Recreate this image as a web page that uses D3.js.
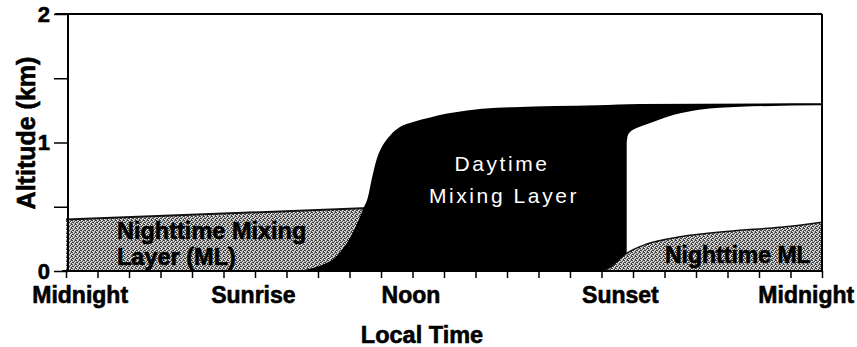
<!DOCTYPE html>
<html><head><meta charset="utf-8">
<script src="https://cdn.jsdelivr.net/npm/d3@7"></script>
<style>body{margin:0;background:#fff} svg{display:block}</style>
</head><body>
<svg id="chart" width="857" height="347"></svg>
<script>
// Boundary-layer depth over one day: hours after midnight → altitude (km)
const nightLeftHours = [0, 9.6];
const nightLeftKm    = [0.40, 0.49];

const dayHours = [7.2, 7.6, 8.16, 8.63, 9.17, 9.43, 9.59, 9.71, 9.87, 10.06, 10.29, 10.6, 11.02, 11.56, 12.1, 12.73, 13.68, 14.19, 16.86, 18.2, 24];
const dayKm    = [0, 0.01, 0.05, 0.125, 0.33, 0.48, 0.58, 0.72, 0.875, 0.98, 1.055, 1.12, 1.16, 1.195, 1.225, 1.25, 1.27, 1.275, 1.29, 1.30, 1.305];

const residualHours = [17.8, 17.83, 17.9, 18.05, 18.3, 18.7, 19.3, 20.1, 21.4, 24];
const residualKm    = [1.0, 1.05, 1.08, 1.105, 1.13, 1.165, 1.215, 1.255, 1.278, 1.289];

const nightRightHours = [16.95, 17.19, 17.81, 18.44, 19.5, 21.08, 22.67, 24];
const nightRightKm    = [0, 0.016, 0.14, 0.21, 0.266, 0.31, 0.34, 0.38];

const yTickValues = [0, 0.5, 1, 1.5, 2];
const yTickLabels = ["0", "", "1", "", "2"];
const xTickHours  = d3.range(0, 25);
const timeLabels  = ["Midnight", "Sunrise", "Noon", "Sunset", "Midnight"];
const timeLabelHours = [0.45, 5.95, 10.95, 17.6, 23.5];

const svg = d3.select("#chart");
const x = d3.scaleLinear().domain([0, 24]).range([66, 822]);
const y = d3.scaleLinear().domain([0, 2]).range([271, 14]);
const FONT = "'Liberation Sans', Arial, sans-serif";

// heavy bold text helper
function heavy(sel, size, color = "#000") {
  return sel.attr("font-family", FONT).attr("font-weight", "bold").attr("font-size", size)
    .attr("fill", color).attr("stroke", color).attr("stroke-width", 0.6).attr("paint-order", "stroke");
}

// stippled halftone fill for the night layers
const defs = svg.append("defs");
const pat = defs.append("pattern").attr("id", "stipple")
  .attr("patternUnits", "userSpaceOnUse").attr("width", 4).attr("height", 4);
pat.append("rect").attr("width", 4).attr("height", 4).attr("fill", "#aaaaaa");
[[0,0],[2,1],[1,2],[3,3],[3,0],[0,2]].forEach(([a,b]) =>
  pat.append("rect").attr("x", a).attr("y", b).attr("width", 1).attr("height", 1).attr("fill", "#3c3c3c"));
[[1,0],[0,3],[2,2],[3,1]].forEach(([a,b]) =>
  pat.append("rect").attr("x", a).attr("y", b).attr("width", 1).attr("height", 1).attr("fill", "#f0f0f0"));

const zip = (hs, ks) => hs.map((h, i) => ({h, k: ks[i]}));
const area = d3.area().x(d => x(d.h)).y0(y(0)).y1(d => y(d.k)).curve(d3.curveMonotoneX);
const line = d3.line().x(d => x(d.h)).y(d => y(d.k)).curve(d3.curveMonotoneX);

const nightLeft = zip(nightLeftHours, nightLeftKm);
const day = zip(dayHours, dayKm);
const residual = zip(residualHours, residualKm);
const nightRight = zip(nightRightHours, nightRightKm);

svg.append("path").datum(nightLeft).attr("d", area).attr("fill", "url(#stipple)");
svg.append("path").datum(nightLeft).attr("d", line).attr("fill", "none").attr("stroke", "#111").attr("stroke-width", 2);
svg.append("path").datum(day).attr("d", area).attr("fill", "#000");
svg.append("path").datum(residual).attr("d", area).attr("fill", "#fff");
svg.append("path").datum(nightRight).attr("d", area).attr("fill", "url(#stipple)");
svg.append("path").datum(nightRight).attr("d", line).attr("fill", "none").attr("stroke", "#111").attr("stroke-width", 1.5);

// frame
svg.append("line").attr("x1", 55).attr("x2", x(24)).attr("y1", y(2)).attr("y2", y(2)).attr("stroke", "#000").attr("stroke-width", 2);
svg.append("line").attr("x1", x(24)).attr("x2", x(24)).attr("y1", y(2)).attr("y2", y(0)).attr("stroke", "#000").attr("stroke-width", 2);

// y axis
const yAxis = svg.append("g").attr("transform", "translate(68,0)")
  .call(d3.axisLeft(y).tickValues(yTickValues).tickSize(14).tickPadding(4)
    .tickFormat((d, i) => yTickLabels[i]));
yAxis.select(".domain").attr("stroke-width", 2).attr("d", `M0,${y(2)}V${y(0)}`);
yAxis.selectAll(".tick line").attr("stroke-width", 1.5);
heavy(yAxis.selectAll("text"), 22);

// x axis
const xAxis = svg.append("g").attr("transform", `translate(0,${y(0)})`)
  .call(d3.axisBottom(x).tickValues(xTickHours).tickSize(7).tickFormat(""));
xAxis.select(".domain").attr("stroke-width", 2).attr("d", `M62,0H${x(24)}`);
xAxis.selectAll(".tick line").attr("stroke-width", 1.5);

heavy(svg.append("g").selectAll("text").data(timeLabels).join("text")
  .attr("x", (d, i) => x(timeLabelHours[i])).attr("y", 303)
  .attr("text-anchor", "middle").text(d => d), 23);

heavy(svg.append("text").attr("x", 422).attr("y", 343).attr("text-anchor", "middle").text("Local Time"), 23.5);

heavy(svg.append("text").attr("transform", "translate(35,133) rotate(-90)").attr("text-anchor", "middle")
  .text("Altitude (km)"), 25);

// layer annotations
const nl = heavy(svg.append("text"), 23.5);
nl.append("tspan").attr("x", 117).attr("y", 239).text("Nighttime Mixing");
nl.append("tspan").attr("x", 117).attr("y", 265).text("Layer (ML)");

heavy(svg.append("text").attr("x", 665).attr("y", 263).text("Nighttime ML"), 23);

const dl = svg.append("text").attr("font-family", FONT).attr("font-size", 21).attr("fill", "#fff")
  .attr("letter-spacing", 2.6).attr("text-anchor", "middle");
dl.append("tspan").attr("x", 502).attr("y", 171).text("Daytime");
dl.append("tspan").attr("x", 504).attr("y", 203).text("Mixing Layer");
</script>
</body></html>
